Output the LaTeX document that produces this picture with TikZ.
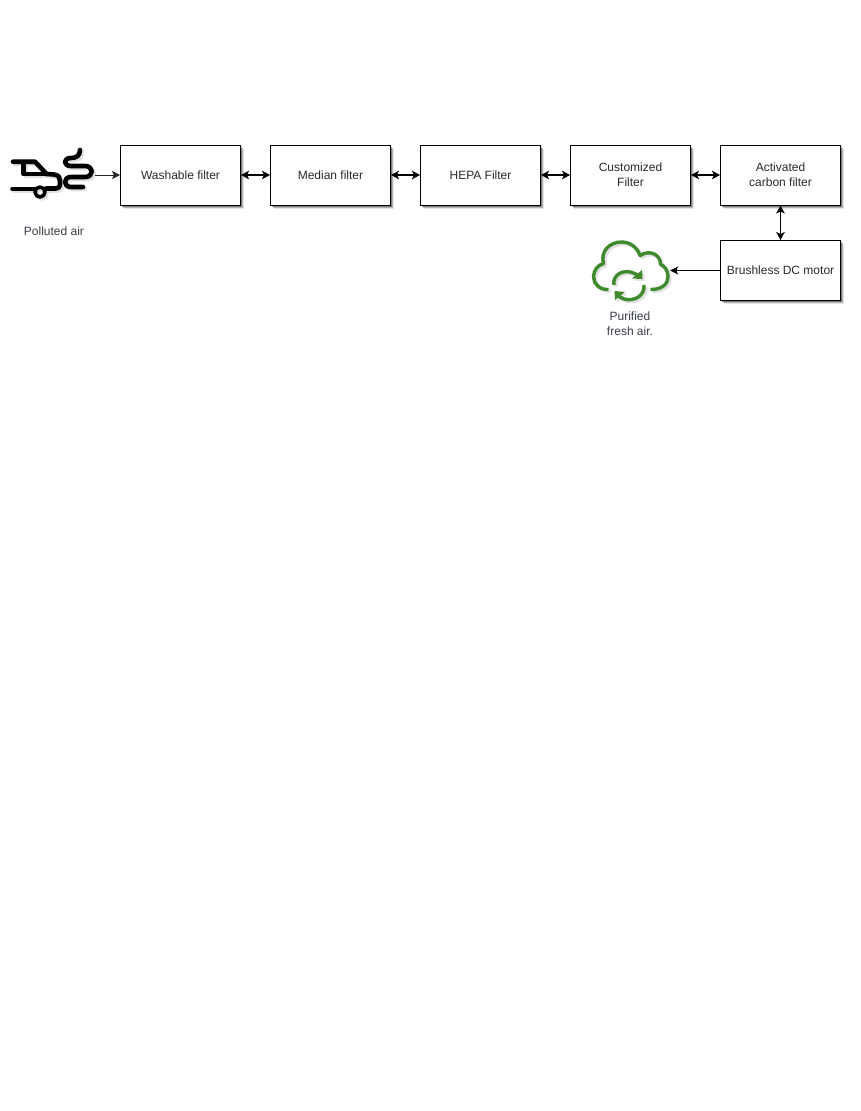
\documentclass[tikz,border=0pt]{standalone}
\usepackage{fontspec}
\setmainfont{Liberation Sans}
\usetikzlibrary{arrows.meta,shadows,positioning}
\definecolor{txt}{HTML}{2A2A2A}
\definecolor{lbl}{HTML}{3A3F48}
\definecolor{leaf}{HTML}{3F8A2C}
\tikzset{
  filterbox/.style={draw=black,line width=1pt,fill=white,minimum width=120pt,minimum height=60pt,inner sep=0pt,align=center,font=\fontsize{12}{15}\selectfont,text=txt,
    general shadow={shadow xshift=3.5pt,shadow yshift=-3.5pt,fill=black,opacity=.10},
    general shadow={shadow xshift=2.5pt,shadow yshift=-2.5pt,fill=black,opacity=.22},
    general shadow={shadow xshift=1.5pt,shadow yshift=-1.5pt,fill=black,opacity=.30}},
  lbltext/.style={align=center,font=\fontsize{12}{15}\selectfont,text=lbl,inner sep=0pt},
  link/.style={line width=1.5pt,{Stealth[inset=2pt,length=8pt,width=8.5pt]}-{Stealth[inset=2pt,length=8pt,width=8.5pt]}},
  oneway/.style={line width=1pt,-{Stealth[inset=2pt,length=8pt,width=8pt]}},
  carline/.style={line width=4.6pt,line cap=round,line join=round},
  cloudline/.style={line width=3.4pt,line cap=butt,line join=round},
  iconbox/.style={inner sep=0pt,minimum width=0pt,minimum height=0pt}
}
\newcommand{\carshape}[1]{%
\draw[carline,draw=#1] (13,161.7) -- (35,161.7) -- (46.5,174) -- (54,174.5) .. controls (59,175) and (60,178) .. (60,181) -- (60,185) .. controls (60,187) and (58,188.5) .. (56,188.5) -- (46,188.5);
\draw[carline,draw=#1] (23.5,162) -- (23.5,174) -- (46.5,174);
\draw[carline,draw=#1] (12.5,189) -- (34,189);
\draw[carline,draw=#1,line width=3.6pt] (40,192) circle (5);
\draw[carline,draw=#1] (80,150) .. controls (80,156) and (76,158) .. (71,158) .. controls (63,158) and (63,166) .. (71,166) -- (85,166) .. controls (94,166) and (94,177) .. (85,177) -- (71,177) .. controls (63,177) and (63,187) .. (71,187) -- (83,187);
}
\newcommand{\cloudshape}[1]{%
\draw[cloudline,draw=#1] (608.5,289.5) .. controls (600,290) and (593.5,284) .. (593.5,277) .. controls (593.5,270) and (598,265) .. (603.5,263.5) .. controls (600,251) and (610,242) .. (621.5,242) .. controls (630,242) and (637,247) .. (640,255.5) .. controls (650,249) and (661,255) .. (660.5,264.5) .. controls (665,266) and (668,271) .. (668,277) .. controls (668,284) and (662,289.5) .. (650.5,289.5);
\draw[cloudline,draw=#1] (614,285) .. controls (612,276) and (622,269) .. (632,272.5) .. controls (636,274) and (638,275) .. (640,277);
\fill[#1] (642,270) -- (642.5,279) -- (632,278.5) -- cycle;
\draw[cloudline,draw=#1] (644,285) .. controls (645,295) and (635,302) .. (624,299) .. controls (621,298) and (619,297) .. (617,294);
\fill[#1] (615,300) -- (614.5,291) -- (625,292) -- cycle;
}
\begin{document}
\begin{tikzpicture}[x=1pt,y=-1pt]
\useasboundingbox (0,0) rectangle (861,1111);
\fill[white] (0,0) rectangle (861,1111);
\node[filterbox] (wash) at (180.5,175) {Washable filter};
\node[filterbox] (median) at (330.5,175) {Median filter};
\node[filterbox] (hepa) at (480.5,175) {HEPA Filter};
\node[filterbox] (custom) at (630.5,175) {Customized\\Filter};
\node[filterbox] (carbon) at (780.5,175) {Activated\\carbon filter};
\node[filterbox] (motor) at (780.5,270.5) {Brushless DC motor};
% polluted-air icon
\node[iconbox] (polluted) at (95,175) {};
\begin{scope}[shift={(2,2)}]\carshape{black!12}\end{scope}
\carshape{black}
% arrows
\draw[oneway,draw=black!85] (polluted) -- (wash);
\draw[link] (wash) -- (median);
\draw[link] (median) -- (hepa);
\draw[link] (hepa) -- (custom);
\draw[link] (custom) -- (carbon);
\draw[link] (carbon) -- (motor);
% purified-air icon
\node[iconbox] (fresh) at (670,270.5) {};
\begin{scope}[shift={(2,2)}]\cloudshape{black!12}\end{scope}
\cloudshape{leaf}
\draw[oneway] (motor) -- (fresh);
% labels
\node[lbltext] (pollutedlabel) at (54,231) {Polluted air};
\node[lbltext] (freshlabel) at (630,323.5) {Purified\\fresh air.};
\end{tikzpicture}
\end{document}
